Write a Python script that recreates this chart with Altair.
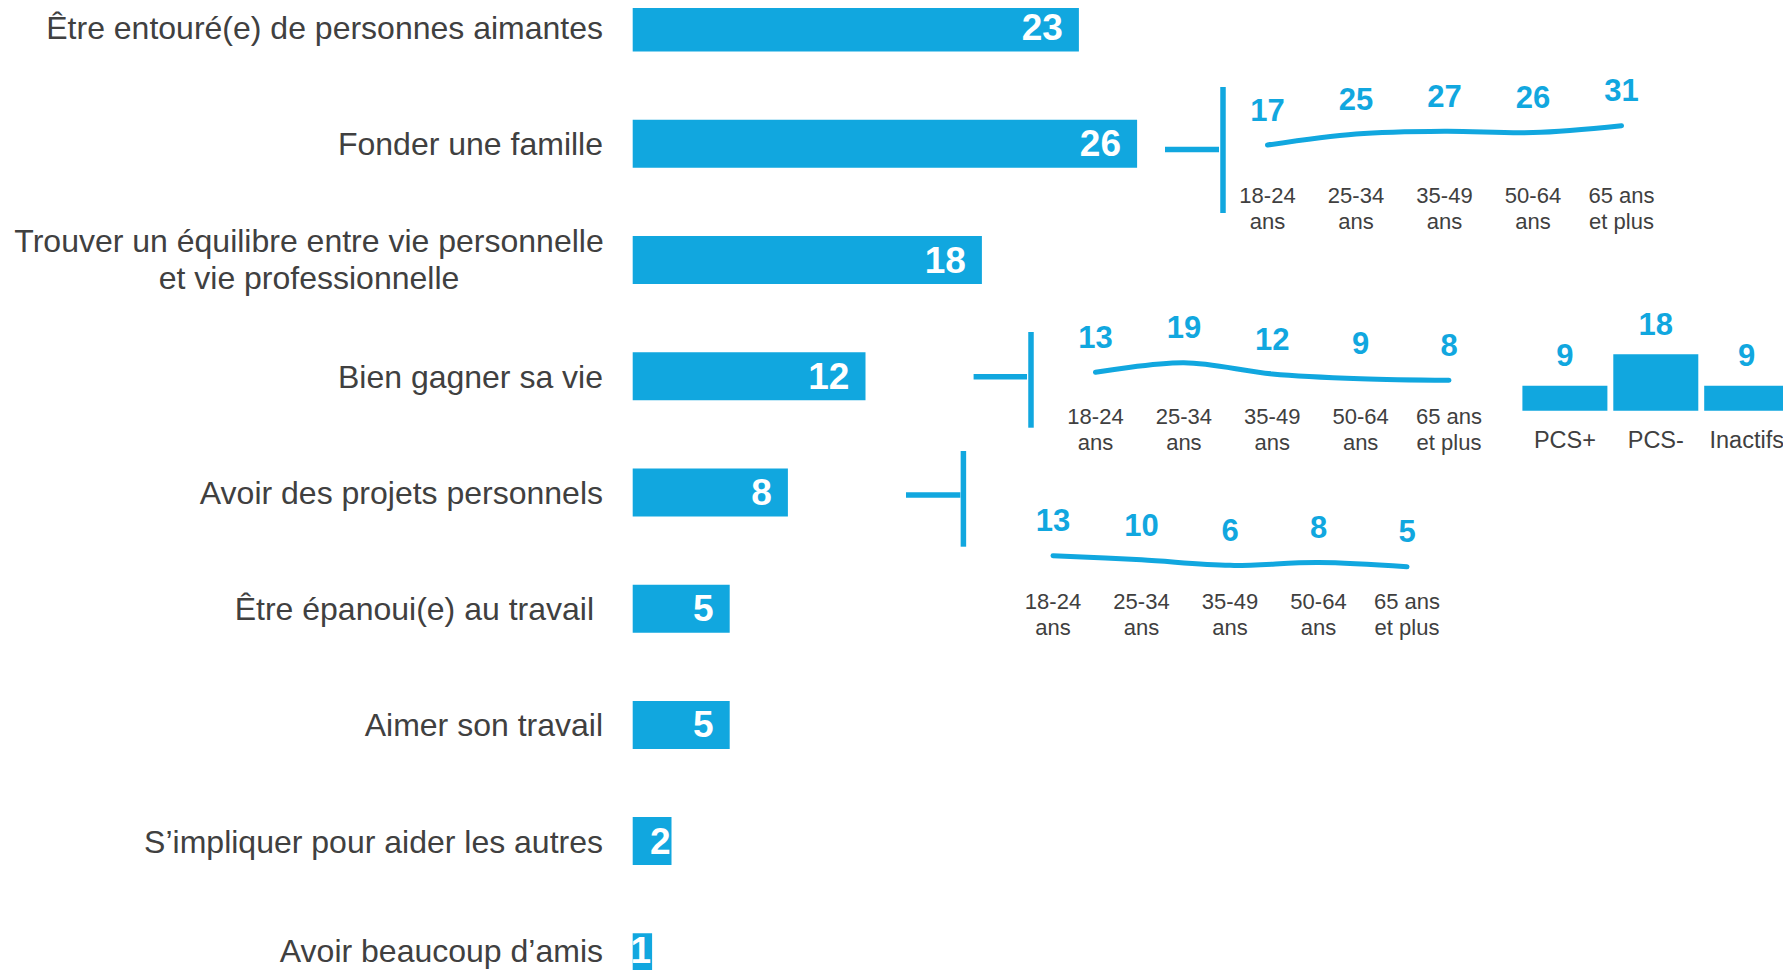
import altair as alt
import pandas as pd

# ---------------- data ----------------
categories = [
    "Être entouré(e) de personnes aimantes",
    "Fonder une famille",
    "Trouver un équilibre entre vie personnelle\net vie professionnelle",
    "Bien gagner sa vie",
    "Avoir des projets personnels",
    "Être épanoui(e) au travail ",
    "Aimer son travail",
    "S’impliquer pour aider les autres",
    "Avoir beaucoup d’amis",
]
values = [23, 26, 18, 12, 8, 5, 5, 2, 1]

age_groups = ["18-24\nans", "25-34\nans", "35-49\nans", "50-64\nans", "65 ans\net plus"]
famille_by_age = [17, 25, 27, 26, 31]
gagner_by_age = [13, 19, 12, 9, 8]
projets_by_age = [13, 10, 6, 8, 5]

pcs_groups = ["PCS+", "PCS-", "Inactifs"]
gagner_by_pcs = [9, 18, 9]

# ---------------- style / layout ----------------
BLUE = "#11A7DF"
GRAY = "#404040"
FONT = "Liberation Sans"
W, H = 1775, 962


def sc(domain, rng):
    return alt.Scale(domain=domain, range=rng, nice=False, zero=False, padding=0)


main_x = sc([0, 30], [624.7, 624.7 + 30 * 19.4])
main_y = sc([0, 8], [19.6, 949.3])

df_main = pd.DataFrame({"cat": categories, "v": values, "row": list(range(len(values)))})

X = lambda f, s: alt.X(f, scale=s, axis=None)
Y = lambda f, s: alt.Y(f, scale=s, axis=None)

# keep the texts of the last (cut-off) row inside the page
LY = "min(datum.row, 7.94)"

bars = alt.Chart(df_main).mark_bar(size=48, orient="horizontal", color=BLUE).encode(
    x=X("v:Q", main_x), x2=alt.datum(0), y=Y("row:Q", main_y)
)

bar_vals = (
    alt.Chart(df_main)
    .transform_calculate(lx="datum.v >= 3 ? datum.v - 0.83 : datum.v - 0.05", ly=LY)
    .mark_text(align="right", baseline="middle", dy=1.5, font=FONT, fontSize=37,
               fontWeight="bold", color="white")
    .encode(x=X("lx:Q", main_x), y=Y("ly:Q", main_y), text="v:Q")
)

label_style = dict(baseline="middle", dy=1.6, font=FONT, fontSize=32, color=GRAY)

cat_labels = (
    alt.Chart(df_main)
    .transform_filter("indexof(datum.cat, '\\n') < 0 && slice(datum.cat, -1) != ' '")
    .transform_calculate(ly=LY)
    .mark_text(align="right", **label_style)
    .encode(x=alt.value(595), y=Y("ly:Q", main_y), text="cat:N")
)

cat_labels_sp = (
    alt.Chart(df_main)
    .transform_filter("slice(datum.cat, -1) == ' '")
    .mark_text(align="right", dx=-9, **label_style)
    .encode(x=alt.value(595), y=Y("row:Q", main_y), text="cat:N")
)

cat_labels_2 = (
    alt.Chart(df_main)
    .transform_filter("indexof(datum.cat, '\\n') >= 0")
    .mark_text(align="center", baseline="alphabetic", dy=-8, lineBreak="\n", lineHeight=36.5,
               font=FONT, fontSize=32, color=GRAY)
    .encode(x=alt.value(301), y=Y("row:Q", main_y), text="cat:N")
)

layers = [bars, bar_vals, cat_labels, cat_labels_sp, cat_labels_2]


def inset(vals, xr, yr, label_y):
    df = pd.DataFrame({"age": age_groups, "v": vals, "i": list(range(len(vals)))})
    xs = sc([0, len(vals) - 1], xr)
    ys = sc([0, 40], yr)
    line = alt.Chart(df).mark_line(color=BLUE, strokeWidth=5, interpolate="catmull-rom",
                                   strokeCap="round").encode(x=X("i:Q", xs), y=Y("v:Q", ys))
    txt = alt.Chart(df).mark_text(baseline="middle", dy=-33.3, font=FONT, fontSize=31,
                                  fontWeight="bold", color=BLUE).encode(
        x=X("i:Q", xs), y=Y("v:Q", ys), text="v:Q")
    ages = alt.Chart(df).mark_text(baseline="alphabetic", lineBreak="\n", lineHeight=26,
                                   font=FONT, fontSize=22, color=GRAY).encode(
        x=X("i:Q", xs), y=alt.value(label_y), text="age:N")
    return [line, txt, ages]


layers += inset(famille_by_age, [1259.5, 1613.5], [160.5, 160.5 - 40 * 1.38], 194.5)
layers += inset(gagner_by_age, [1087.5, 1441], [385.1, 385.1 - 40 * 1.6], 416.2)
layers += inset(projets_by_age, [1045, 1399], [565.6, 565.6 - 40 * 1.375], 601.2)

# PCS mini bar chart
PCS_AXIS_MIN = 1.83
df_pcs = pd.DataFrame({"g": pcs_groups, "v": gagner_by_pcs, "i": list(range(len(pcs_groups)))})
pcs_x = sc([0, 2], [1556.9, 1738.7])
pcs_y = sc([PCS_AXIS_MIN, 18], [402.7, 346.3])
layers += [
    alt.Chart(df_pcs).mark_bar(size=85, orient="vertical", color=BLUE).encode(
        x=X("i:Q", pcs_x), y=Y("v:Q", pcs_y), y2=alt.datum(PCS_AXIS_MIN)),
    alt.Chart(df_pcs).mark_text(baseline="middle", dy=-28.3, font=FONT, fontSize=31,
                                fontWeight="bold", color=BLUE).encode(
        x=X("i:Q", pcs_x), y=Y("v:Q", pcs_y), text="v:Q"),
    alt.Chart(df_pcs).mark_text(baseline="middle", font=FONT, fontSize=23.5, color=GRAY).encode(
        x=X("i:Q", pcs_x), y=alt.value(433.2), text="g:N"),
]

# connector brackets
one = pd.DataFrame({"k": [0]})
for (hx1, hx2, hy), (vx, vy1, vy2) in [
    ((1157, 1211, 141.5), (1215, 79, 205)),
    ((965.6, 1019, 368.7), (1023, 324, 419.7)),
    ((898, 952.4, 487), (955.4, 443, 538.7)),
]:
    layers.append(alt.Chart(one).mark_rule(color=BLUE, strokeWidth=5.5).encode(
        x=alt.value(hx1), x2=alt.value(hx2), y=alt.value(hy)))
    layers.append(alt.Chart(one).mark_rule(color=BLUE, strokeWidth=5.5).encode(
        x=alt.value(vx), y=alt.value(vy1), y2=alt.value(vy2)))

chart = (
    alt.layer(*layers)
    .resolve_scale(x="independent", y="independent")
    .properties(width=W, height=H, padding=0, autosize=alt.AutoSizeParams(type="none"))
    .configure_view(stroke=None)
)

chart.save("out.html", embed_options={"renderer": "svg", "actions": False})
